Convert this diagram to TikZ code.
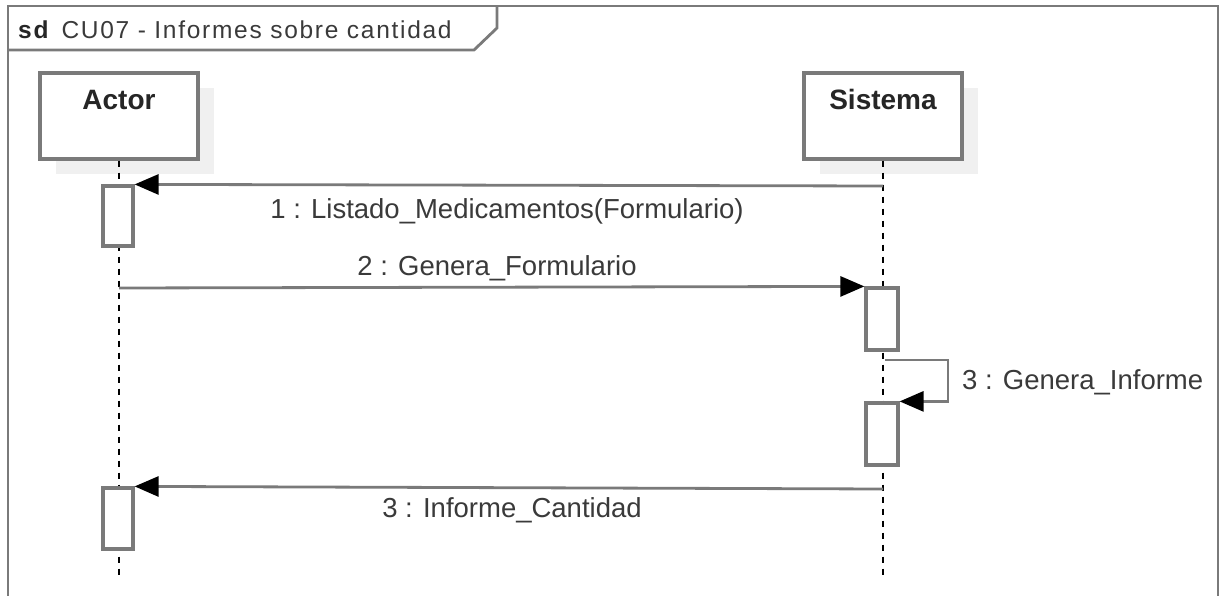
\documentclass[tikz,border=0pt]{standalone}
\usepackage{fontspec}
\setmainfont{Liberation Sans}
\newfontfamily\ttlfont[LetterSpace=7]{Liberation Sans}
\usetikzlibrary{arrows.meta}
\definecolor{framegray}{HTML}{7A7A7A}
\definecolor{shadowgray}{HTML}{F0F0F0}
\definecolor{labelgray}{HTML}{3A3A3A}
\begin{document}
\begin{tikzpicture}[x=1pt,y=-1pt,
  frameline/.style={draw=framegray, line width=2.8pt},
  shadowbox/.style={fill=shadowgray, draw=none, minimum width=158pt, minimum height=86pt, inner sep=0pt},
  lifebox/.style={draw=framegray, line width=3.2pt, fill=white, minimum width=158pt, minimum height=86pt, inner sep=0pt},
  lifeline/.style={draw=black, line width=1.8pt, dash pattern=on 6pt off 6pt},
  actbox/.style={draw=framegray, line width=3.2pt, fill=white, minimum width=30pt, inner sep=0pt},
  msg/.style={draw=framegray, line width=2.8pt, -{Triangle[length=24pt,width=20pt,color=black]}},
  lbl/.style={text=labelgray, font=\fontsize{27.5}{32}\selectfont, inner sep=0pt, anchor=base},
  namelbl/.style={text=black!85, font=\fontsize{28}{32}\selectfont\bfseries, inner sep=0pt, anchor=base}
]
\useasboundingbox (0,0) rectangle (1221,596);
\clip (0,0) rectangle (1221,596);
\fill[white] (0,0) rectangle (1221,596);

% frame
\draw[frameline] (8,610) -- (8,6) -- (1218,6) -- (1218,610);
\draw[frameline] (8,50) -- (474,50) -- (497,28) -- (497,6);
\node[inner sep=0pt, anchor=base west, text=black!85] (title) at (18,39)
  {\ttlfont\fontsize{24.5}{28}\selectfont{\bfseries sd}\hspace{13pt}{\color{labelgray}CU07 - Informes sobre cantidad}};

% lifeline heads
\node[shadowbox] (actorsh) at (135,131) {};
\node[shadowbox] (sissh) at (899,131) {};
\node[lifebox] (actor) at (119,116) {};
\node[lifebox] (sis) at (883,116) {};
\node[namelbl] (actorlbl) at (119,110) {Actor};
\node[namelbl] (sislbl) at (883,110) {Sistema};

% lifelines
\coordinate (actorend) at (119,580);
\coordinate (sisend) at (883,580);
\draw[lifeline] (actor.south) -- (actorend);
\draw[lifeline] (sis.south) -- (sisend);

% activations
\node[actbox, minimum height=60pt] (act1) at (118,216) {};
\node[actbox, minimum height=61pt] (act2) at (118,518.5) {};
\node[actbox, minimum width=32pt, minimum height=62pt] (sact1) at (882,319) {};
\node[actbox, minimum width=32pt, minimum height=62pt] (sact2) at (882,434) {};

% messages
\coordinate (m1s) at (883,186);
\draw[msg] (m1s) -- (act1.north east);
\node[lbl] (m1l) at (507,219) {1 : Listado\_Medicamentos(Formulario)};

\coordinate (m2s) at (119,288);
\draw[msg] (m2s) -- (sact1.north west);
\node[lbl] (m2l) at (497,275) {2 : Genera\_Formulario};

\coordinate (m3s) at (885,360);
\coordinate (m3c) at (948,360);
\draw[msg] (m3s) -- (m3c) |- (sact2.north east);
\node[lbl, anchor=base west] (m3l) at (962,389) {3 : Genera\_Informe};

\coordinate (m4s) at (883,489);
\draw[msg] (m4s) -- (act2.north east);
\node[lbl] (m4l) at (512,517) {3 : Informe\_Cantidad};
\end{tikzpicture}
\end{document}
